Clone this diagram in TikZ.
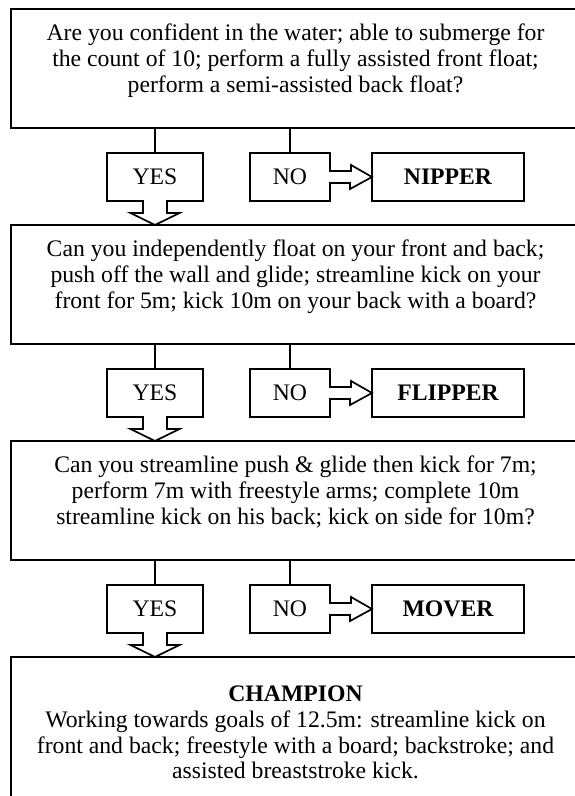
\documentclass[tikz,border=0pt]{standalone}
\usepackage{fontspec}
\setmainfont{Liberation Serif}
\usetikzlibrary{calc}
\begin{document}
\begin{tikzpicture}[x=1pt,y=-1pt, line width=1.7pt,
  every node/.style={outer sep=0pt},
  bigbox/.style={draw, minimum width=569pt, minimum height=119pt, anchor=north west, inner sep=0pt},
  txt/.style={font=\fontsize{23.7}{25.7}\selectfont, align=center, inner sep=0pt, anchor=north},
  lbl/.style={font=\fontsize{23.7}{25.7}\selectfont, minimum height=48pt, inner sep=0pt},
  res/.style={draw, font=\bfseries\fontsize{23.7}{25.7}\selectfont, minimum width=152pt, minimum height=48pt, inner sep=0pt},
  yesarrow/.style={draw, line join=miter}]
\useasboundingbox (0,0) rectangle (575,796);
\clip (0,0) rectangle (575,796);

% ---------- level 1 ----------
\node[bigbox] (q1) at (11,9) {};
\node[txt] (t1) at (295.5,24) {Are you confident in the water; able to submerge for\\the count of 10; perform a fully assisted front float;\\perform a semi-assisted back float?};
\node[lbl, minimum width=96pt] (yes1) at (155,177) {YES};
\node[lbl, minimum width=80pt] (no1) at (290,177) {NO};
\node[res] (r1) at (448,177) {NIPPER};

% ---------- level 2 ----------
\node[bigbox] (q2) at (11,225) {};
\node[txt] (t2) at (295.5,240) {Can you independently float on your front and back;\\push off the wall and glide; streamline kick on your\\front for 5m; kick 10m on your back with a board?};
\node[lbl, minimum width=96pt] (yes2) at (155,393) {YES};
\node[lbl, minimum width=80pt] (no2) at (290,393) {NO};
\node[res] (r2) at (448,393) {FLIPPER};

% ---------- level 3 ----------
\node[bigbox] (q3) at (11,441) {};
\node[txt] (t3) at (295.5,456) {Can you streamline push \& glide then kick for 7m;\\perform 7m with freestyle arms; complete 10m\\streamline kick on his back; kick on side for 10m?};
\node[lbl, minimum width=96pt] (yes3) at (155,609) {YES};
\node[lbl, minimum width=80pt] (no3) at (290,609) {NO};
\node[res] (r3) at (448,609) {MOVER};

% ---------- level 4 ----------
\node[bigbox, minimum height=200pt] (q4) at (11,657) {};
\node[txt] (t4) at (295.5,686) {\textbf{CHAMPION}\\Working towards goals of 12.5m: streamline kick on\\front and back; freestyle with a board; backstroke; and\\assisted breaststroke kick.};

% ---------- connectors ----------
\foreach \q/\y/\n/\r in {q1/yes1/no1/r1, q2/yes2/no2/r2, q3/yes3/no3/r3}{
  \draw (\q.south -| \y.north) -- (\y.north);
  \draw (\q.south -| \n.north) -- (\n.north);
  \draw[yesarrow] (\y.south east) -- (\y.north east) -- (\y.north west) -- (\y.south west)
     -- ($(\y.south)+(-12,0)$) -- ++(0,12) -- ++(-12.5,0) -- ($(\y.south)+(0,24)$)
     -- ++(24.5,-12) -- ++(-12.5,0) -- ++(0,-12) -- cycle;
  \draw[yesarrow] ($(\n.east)+(0,-6)$) -- (\n.north east) -- (\n.north west) -- (\n.south west)
     -- (\n.south east) -- ($(\n.east)+(0,6)$) -- ++(20,0) -- ++(0,6) -- (\r.west)
     -- ++(-21,-12) -- ++(0,6) -- cycle;
}
\end{tikzpicture}
\end{document}
